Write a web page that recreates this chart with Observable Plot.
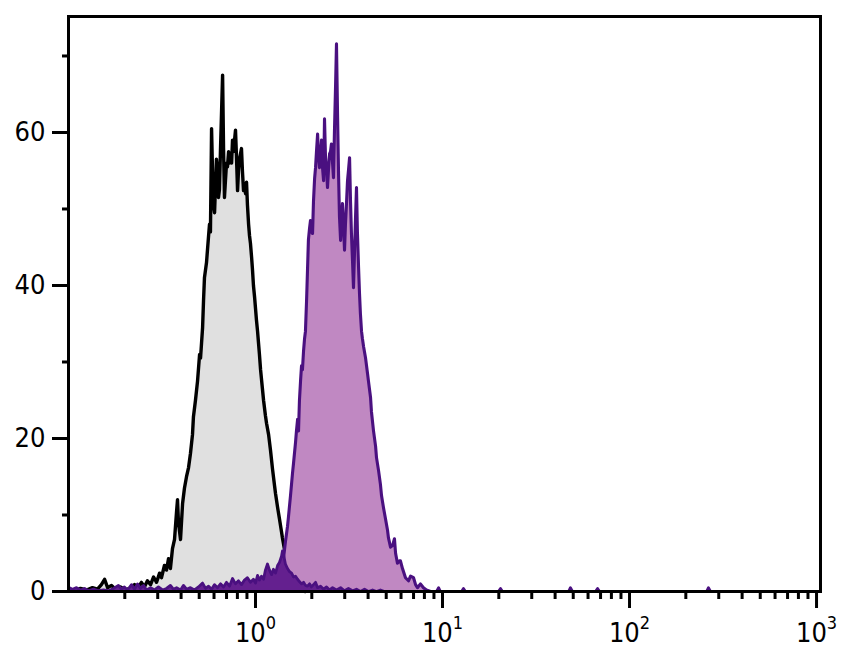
<!DOCTYPE html>
<html><head><meta charset="utf-8">
<script src="https://cdn.jsdelivr.net/npm/d3@7"></script>
<script src="https://cdn.jsdelivr.net/npm/@observablehq/plot@0.6"></script>
<style>body{margin:0;background:#fff;}</style>
</head><body><div id="chart"></div>
<script>
// Histogram vertices: log10(intensity) and event counts
const grayLog = [-0.995,-0.968,-0.936,-0.904,-0.872,-0.845,-0.824,-0.807,-0.791,-0.770,
-0.749,-0.722,-0.695,-0.668,-0.647,-0.631,-0.610,-0.594,-0.578,-0.561,
-0.545,-0.529,-0.513,-0.503,-0.487,-0.476,-0.465,-0.455,-0.444,-0.433,
-0.422,-0.417,-0.412,-0.401,-0.390,-0.380,-0.369,-0.358,-0.348,-0.337,
-0.332,-0.321,-0.310,-0.299,-0.294,-0.283,-0.278,-0.273,-0.262,-0.251,
-0.246,-0.241,-0.235,-0.230,-0.225,-0.219,-0.214,-0.209,-0.203,-0.198,
-0.193,-0.187,-0.176,-0.171,-0.166,-0.160,-0.155,-0.150,-0.144,-0.139,
-0.134,-0.128,-0.123,-0.118,-0.107,-0.102,-0.096,-0.091,-0.086,-0.075,
-0.070,-0.064,-0.059,-0.053,-0.048,-0.043,-0.037,-0.032,-0.027,-0.021,
-0.016,-0.011,-0.005,0.000,0.005,0.011,0.016,0.021,0.027,0.037,
0.043,0.053,0.059,0.070,0.080,0.091,0.102,0.107,0.118,0.128,
0.139,0.144,0.155,0.166,0.176,0.187,0.198,0.209,0.219,0.241,0.267];
const grayCount = [0.3,0.1,0.4,0.2,0.5,0.3,0.9,1.6,0.5,0.8,
0.3,0.6,0.2,0.5,0.9,0.4,1.2,0.6,1.4,0.9,
1.9,1.2,2.4,1.8,3.4,2.8,4.3,3.0,5.6,6.8,
10.5,12.0,9.0,6.8,11.5,13.5,15.0,16.2,18.0,20.5,
22.8,25.0,27.5,31.0,30.5,34.5,38.0,41.0,43.0,46.5,
48.0,47.0,60.5,55.0,50.5,49.5,53.0,56.5,55.0,51.5,
52.5,58.0,67.5,58.0,51.5,54.0,56.0,55.5,57.5,56.0,
57.0,56.0,59.0,57.5,60.3,57.0,52.4,55.0,56.5,57.9,
55.0,52.4,53.0,52.0,53.5,50.5,48.0,46.5,45.5,43.7,
42.0,40.0,38.5,37.0,35.5,34.0,32.5,31.0,29.0,26.5,
25.0,23.0,22.0,20.5,18.5,16.0,13.8,12.8,11.0,9.5,
7.8,7.0,5.5,4.0,2.8,1.8,1.0,0.6,0.3,0.1,0];

const purpleLog = [0.123,0.139,0.150,0.160,0.171,0.176,0.187,0.198,0.203,0.214,
0.219,0.225,0.230,0.235,0.241,0.246,0.251,0.257,0.262,0.267,
0.273,0.278,0.283,0.289,0.294,0.299,0.305,0.310,0.316,0.321,
0.326,0.332,0.337,0.342,0.348,0.353,0.358,0.364,0.369,0.374,
0.380,0.385,0.390,0.396,0.401,0.406,0.412,0.417,0.422,0.428,
0.433,0.439,0.444,0.449,0.455,0.460,0.465,0.471,0.476,0.481,
0.487,0.492,0.497,0.503,0.508,0.513,0.519,0.524,0.529,0.535,
0.540,0.545,0.551,0.556,0.561,0.567,0.572,0.578,0.588,0.599,
0.604,0.615,0.620,0.631,0.642,0.647,0.658,0.668,0.674,0.684,
0.695,0.706,0.711,0.722,0.733,0.743,0.749,0.759,0.770,0.775,
0.786,0.802,0.818,0.829,0.845,0.856,0.866,0.882,0.898,0.914,0.936];
const purpleCount = [0,2.0,4.4,6.5,8.5,9.7,12.5,15.5,16.7,19.5,
21.0,22.5,21.0,25.0,27.6,29.5,29.0,31.5,33.0,34.0,
38.0,42.0,46.0,47.5,48.5,47.0,46.8,51.0,54.0,55.4,
57.5,59.8,57.0,55.4,57.0,59.0,55.5,53.7,61.8,57.0,
55.0,52.8,55.0,57.2,57.5,58.5,56.0,54.1,60.0,66.0,
71.6,62.0,54.6,49.0,45.9,48.5,50.7,47.5,44.6,48.0,
51.0,53.7,55.0,56.7,51.0,46.8,43.0,39.7,44.0,49.0,
52.8,47.0,42.4,39.0,36.3,34.0,33.0,32.0,30.6,28.5,
27.5,25.4,23.5,21.0,19.0,17.5,15.8,14.0,12.5,11.0,
9.5,8.0,7.0,5.8,6.0,6.9,5.0,3.7,4.0,4.0,
3.0,1.8,1.4,2.0,1.8,0.9,0.5,1.0,0.5,0.2,0];

const darkLog = [-0.995,-0.979,-0.957,-0.936,-0.914,-0.893,-0.866,-0.840,-0.813,-0.786,
-0.759,-0.733,-0.717,-0.701,-0.684,-0.663,-0.647,-0.631,-0.615,-0.599,
-0.583,-0.561,-0.540,-0.519,-0.497,-0.476,-0.455,-0.439,-0.422,-0.401,
-0.385,-0.369,-0.348,-0.326,-0.305,-0.283,-0.267,-0.251,-0.235,-0.219,
-0.203,-0.187,-0.171,-0.155,-0.139,-0.123,-0.107,-0.091,-0.075,-0.059,
-0.043,-0.027,-0.011,0.000,0.011,0.021,0.032,0.043,0.053,0.064,
0.075,0.086,0.096,0.107,0.118,0.128,0.139,0.144,0.150,0.160,
0.171,0.182,0.193,0.203,0.214,0.225,0.235,0.246,0.257,0.267,
0.278,0.289,0.299,0.310,0.321,0.332,0.348,0.364,0.380,0.396,
0.412,0.433,0.455,0.476,0.497,0.519,0.540,0.561,0.583,0.604,
0.626,0.647,0.668,0.690,
0.968,0.979,0.989,1.102,1.112,1.123,1.299,1.310,1.321,
1.674,1.684,1.695,1.818,1.829,1.840,2.412,2.422,2.433,3.021];
const darkCount = [0.5,0.3,0.5,0.2,0.4,0.1,0.3,0.1,0.2,0.1,
0.4,0.8,0.3,0.6,0.2,0.9,0.3,1.0,0.4,0.8,
0.2,0.5,0.2,0.6,0.2,0.4,0.8,0.3,0.5,0.2,
0.8,0.3,0.5,0.2,0.6,1.1,0.4,0.7,0.3,0.9,
0.5,1.0,0.6,1.2,0.7,1.7,1.0,1.4,0.9,1.5,
1.8,1.2,1.6,1.1,2.1,1.5,2.0,1.6,2.8,3.6,
2.8,2.2,2.9,2.4,3.4,3.8,4.6,5.3,4.8,3.6,
3.0,2.6,2.4,1.9,2.0,1.6,1.3,1.0,1.2,0.8,
0.7,1.0,0.6,0.9,1.2,0.5,0.7,0.3,0.6,0.2,
0.5,0.2,0.5,0.1,0.4,0.1,0.3,0.0,0.3,0.0,
0.2,0.0,0.2,0.0,
0,0.5,0,0,0.4,0,0,0.4,0,
0,0.5,0,0,0.4,0,0,0.5,0,0];

const majorX = [1, 10, 100, 1000];
const minorX = [0.2,0.3,0.4,0.5,0.6,0.7,0.8,0.9,2,3,4,5,6,7,8,9,20,30,40,50,60,70,80,90,200,300,400,500,600,700,800,900];
const majorY = [0, 20, 40, 60];
const minorY = [10, 30, 50, 70];

const rows = (logs, counts) => logs.map((e, i) => ({x: Math.pow(10, e), y: counts[i]}));
const gray = rows(grayLog, grayCount);
const purple = rows(purpleLog, purpleCount);
const dark = rows(darkLog, darkCount);

const chart = Plot.plot({
  width: 844, height: 658,
  marginLeft: 68, marginRight: 24, marginTop: 16, marginBottom: 67,
  style: {fontFamily: "'Liberation Sans Narrow', 'DejaVu Sans Condensed', 'Liberation Sans', sans-serif", fontSize: "27px", color: "#000", background: "#fff", overflow: "visible"},
  x: {type: "log", domain: [0.1, 1050]},
  y: {domain: [0, 75.16]},
  marks: [
    Plot.areaY(gray, {x: "x", y: "y", fill: "#e0e0e0"}),
    Plot.lineY(gray, {x: "x", y: "y", stroke: "#000", strokeWidth: 3.4}),
    Plot.areaY(purple, {x: "x", y: "y", fill: "#c088c2"}),
    Plot.lineY(purple, {x: "x", y: "y", stroke: "#4a1080", strokeWidth: 3.1}),
    Plot.areaY(dark, {x: "x", y: "y", fill: "#64208f"}),
    Plot.lineY(dark, {x: "x", y: "y", stroke: "#4a1080", strokeWidth: 2.8}),
    Plot.axisX({ticks: minorX, tickSize: 8, tickFormat: () => "", strokeWidth: 3, label: null}),
    Plot.axisX({ticks: majorX, tickSize: 17, tickPadding: 14, tickFormat: d => `10^${Math.round(Math.log10(d))}`, strokeWidth: 3, label: null}),
    Plot.axisY({ticks: minorY, tickSize: 6, tickFormat: () => "", strokeWidth: 3, label: null}),
    Plot.axisY({ticks: majorY, tickSize: 16, tickPadding: 7, strokeWidth: 3, label: null}),
    Plot.frame({stroke: "#000", strokeWidth: 3})
  ]
});

chart.querySelectorAll("text").forEach(t => {
  const m = (t.textContent || "").match(/^10\^(\d)$/);
  if (m) {
    t.textContent = "10";
    const ts = document.createElementNS("http://www.w3.org/2000/svg", "tspan");
    ts.setAttribute("dy", "-13");
    ts.setAttribute("font-size", "18");
    ts.textContent = m[1];
    t.appendChild(ts);
  }
});
document.getElementById("chart").appendChild(chart);
</script>
</body></html>
